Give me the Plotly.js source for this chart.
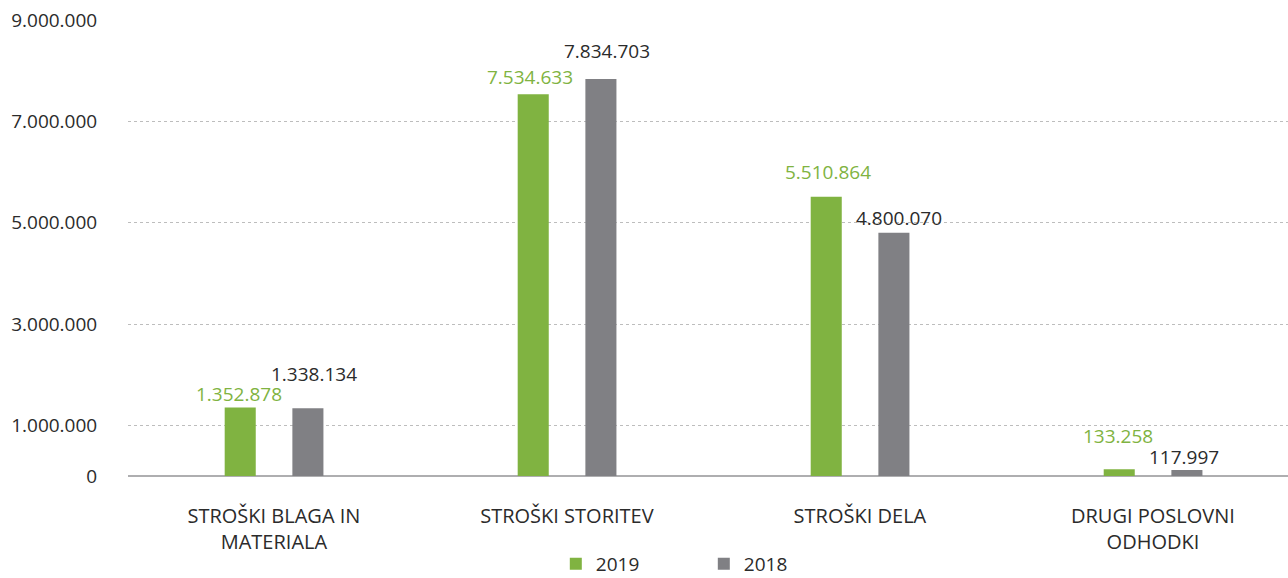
<!DOCTYPE html>
<html>
<head>
<meta charset="utf-8">
<script src="https://cdn.plot.ly/plotly-3.0.1.min.js"></script>
<style>html,body{margin:0;padding:0;background:#fff;}#chart{width:1288px;height:578px;}</style>
</head>
<body>
<div id="chart"></div>
<script>
// ---- data ----
const categories = ['STROŠKI BLAGA IN<br>MATERIALA', 'STROŠKI STORITEV', 'STROŠKI DELA', 'DRUGI POSLOVNI<br>ODHODKI'];
const series2019 = [1352878, 7534633, 5510864, 133258];
const series2018 = [1338134, 7834703, 4800070, 117997];
const labels2019 = ['1.352.878', '7.534.633', '5.510.864', '133.258'];
const labels2018 = ['1.338.134', '7.834.703', '4.800.070', '117.997'];
const yTickVals = [0, 1000000, 3000000, 5000000, 7000000, 9000000];
const yTickText = ['0', '1.000.000', '3.000.000', '5.000.000', '7.000.000', '9.000.000'];

// ---- style ----
const GREEN = '#80b341';
const GRAY = '#808084';
const TEXT = '#2b2b2b';
const FONT = '"Open Sans", "Noto Sans", sans-serif';
const BAR_W = 0.106;
const OFF_2019 = -0.168;
const OFF_2018 = 0.063;
// label nudges in px: [dx, dy above bar top]
const nudge2019 = [[-1, 13], [-3, 17.5], [2, 25], [-1, 33]];
const nudge2018 = [[6, 34.5], [6, 28.5], [5.5, 15], [-2.5, 13.5]];

const traces = [
  {type: 'bar', name: '2019', x: categories, y: series2019, width: BAR_W, offset: OFF_2019,
   marker: {color: GREEN}, hoverinfo: 'none'},
  {type: 'bar', name: '2018', x: categories, y: series2018, width: BAR_W, offset: OFF_2018,
   marker: {color: GRAY}, hoverinfo: 'none'}
];

const annotations = [];
categories.forEach((c, i) => {
  annotations.push({x: i + OFF_2019 + BAR_W / 2, y: series2019[i], xref: 'x', yref: 'y',
    text: labels2019[i], showarrow: false, xanchor: 'center', yanchor: 'middle',
    xshift: nudge2019[i][0], yshift: nudge2019[i][1],
    font: {family: FONT, size: 19, color: GREEN}});
  annotations.push({x: i + OFF_2018 + BAR_W / 2, y: series2018[i], xref: 'x', yref: 'y',
    text: labels2018[i], showarrow: false, xanchor: 'center', yanchor: 'middle',
    xshift: nudge2018[i][0], yshift: nudge2018[i][1],
    font: {family: FONT, size: 19, color: TEXT}});
});

const layout = {
  width: 1288, height: 578,
  margin: {l: 128, r: 0, t: 20, b: 102, autoexpand: false},
  paper_bgcolor: '#fff', plot_bgcolor: '#fff',
  font: {family: FONT, size: 18, color: TEXT},
  barmode: 'overlay',
  showlegend: true,
  legend: {orientation: 'h', xref: 'paper', x: 0.3688, xanchor: 'left',
    yref: 'container', y: 14 / 578, yanchor: 'middle',
    font: {family: FONT, size: 19, color: TEXT}, entrywidth: 103, traceorder: 'normal'},
  xaxis: {type: 'category', range: [-0.498, 3.461], showgrid: false, showline: false, zeroline: false,
    ticks: 'outside', ticklen: 22, tickcolor: 'rgba(0,0,0,0)', tickangle: 0,
    tickfont: {family: FONT, size: 20, color: TEXT}, fixedrange: true},
  yaxis: {range: [0, 9000000], tickvals: yTickVals, ticktext: yTickText,
    showgrid: true, gridcolor: '#bdbdbd', griddash: 'dot', gridwidth: 1,
    zeroline: true, zerolinecolor: '#aeaeb0', zerolinewidth: 2.5, showline: false,
    ticks: 'outside', ticklen: 26, tickcolor: 'rgba(0,0,0,0)',
    tickfont: {family: FONT, size: 19, color: TEXT}, fixedrange: true},
  annotations: annotations
};

Plotly.newPlot('chart', traces, layout, {displayModeBar: false, staticPlot: true});
</script>
</body>
</html>
